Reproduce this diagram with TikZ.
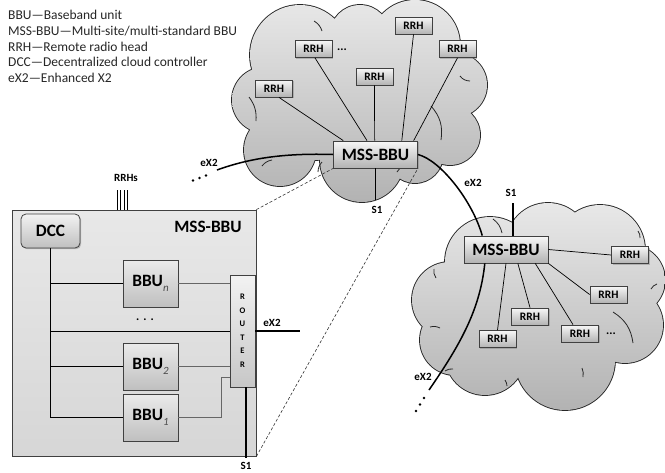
\documentclass[tikz,border=0pt]{standalone}
\usepackage{fontspec}
\setmainfont{Carlito}
\usetikzlibrary{shadows,calc}
\newcommand\cloudTopPath{(300,55) circle[radius=50pt] (415,45) circle[radius=45pt] (455,85) circle[radius=32pt] (450,135) circle[radius=30pt] (265,100) circle[radius=33pt] (280,150) circle[radius=36pt] (362,160) circle[radius=42pt] (415,155) circle[radius=28pt] (360,100) circle[radius=60pt] (360,35) circle[radius=30pt] (315,115) circle[radius=45pt] (415,100) circle[radius=40pt]}
\newcommand\cloudBotPath{(490,262) circle[radius=45pt] (548,245) circle[radius=42pt] (600,250) circle[radius=45pt] (630,280) circle[radius=35pt] (625,325) circle[radius=38pt] (565,360) circle[radius=50pt] (485,355) circle[radius=40pt] (450,300) circle[radius=38pt] (455,340) circle[radius=35pt] (540,305) circle[radius=60pt]}
\begin{document}
\begin{tikzpicture}[x=1pt,y=-1pt,
  box/.style={draw=black!75, line width=0.8pt, top color=black!3, bottom color=black!30,
    drop shadow={shadow xshift=1.2pt, shadow yshift=-1.2pt, opacity=0.45},
    inner sep=0pt, font=\bfseries\fontsize{17.3}{18}\selectfont},
  rrh/.style={box, font=\bfseries\fontsize{11.4}{12}\selectfont, minimum width=37pt, minimum height=17pt},
  mss/.style={box, minimum width=84pt, minimum height=27pt},
  bbu/.style={box, minimum width=55pt, minimum height=47pt, top color=black!8, bottom color=black!25},
  lab/.style={font=\bfseries\fontsize{11}{12}\selectfont, inner sep=0pt},
  leg/.style={font=\fontsize{13.5}{15}\selectfont, text=black!85, anchor=base west, inner sep=0pt},
  thinln/.style={line width=0.7pt, black},
  gline/.style={line width=0.9pt, black!60},
  thickln/.style={line width=1.5pt, black},
  dashln/.style={line width=0.6pt, dash pattern=on 3pt off 2pt, black!80},
  puff/.style={line width=0.8pt, black!85}
]
\useasboundingbox (0,0) rectangle (665,472);

% legend
\node[leg] (leg1) at (8,19.5) {BBU—Baseband unit};
\node[leg] (leg2) at (8,35.3) {MSS-BBU—Multi-site/multi-standard BBU};
\node[leg] (leg3) at (8,51.1) {RRH—Remote radio head};
\node[leg] (leg4) at (8,66.9) {DCC—Decentralized cloud controller};
\node[leg] (leg5) at (8,82.7) {eX2—Enhanced X2};

% clouds
\draw[line width=1.8pt, black!85] \cloudTopPath;
\shade[top color=black!9, bottom color=black!30] \cloudTopPath;
\draw[line width=1.8pt, black!85] \cloudBotPath;
\shade[top color=black!9, bottom color=black!30] \cloudBotPath;
% inner puff arcs (top cloud)
\draw[puff] (314,21) to[bend left=20] (322,31);
\draw[puff] (460,76) to[bend right=25] (470,81);
\draw[puff] (431,106) to[bend left=25] (441,140);
\draw[puff] (262,166) to[bend left=20] (272,160);
\draw[puff] (318,172) to[bend left=20] (322,162);
\draw[puff] (397,172) to[bend right=20] (401,164);
\draw[puff] (249,97) to[bend left=20] (256,121);
% inner puff arcs (bottom cloud)
\draw[puff] (493,219) to[bend left=20] (502,233);
\draw[puff] (638,231) to[bend left=20] (640,238);
\draw[puff] (651,289) to[bend left=20] (657,284);
\draw[puff] (613,312) to[bend left=25] (633,343);
\draw[puff] (582,368) to[bend left=15] (583,377);
\draw[puff] (505,380) to[bend left=15] (507,386);
\draw[puff] (445,371) to[bend left=20] (453,369);
\draw[puff] (430,327) to[bend left=20] (440,328);
\draw[puff] (434,269) to[bend right=20] (436,278);

% big MSS-BBU container
\node[draw=black!75, line width=0.8pt, top color=black!9, bottom color=black!16,
  drop shadow={shadow xshift=1.2pt, shadow yshift=-1.2pt, opacity=0.4},
  minimum width=244pt, minimum height=246pt, inner sep=0pt] (big) at (134,333) {};
\node[font=\bfseries\fontsize{17.3}{18}\selectfont, inner sep=0pt] (bigl) at (208,227) {MSS-BBU};

% top cloud nodes
\node[mss] (mssA) at (375.5,154.5) {MSS-BBU};
\node[rrh] (t1) at (274,88.5) {RRH};
\node[rrh] (t2) at (313.5,49) {RRH};
\node[rrh] (t3) at (374.5,76.5) {RRH};
\node[rrh] (t4) at (413.5,25.5) {RRH};
\node[rrh] (t5) at (457.5,49) {RRH};
\node[font=\bfseries\fontsize{12}{12}\selectfont, inner sep=0pt] (tdots) at (342,50) {...};

% bottom cloud nodes
\node[mss] (mssB) at (506,249.5) {MSS-BBU};
\node[rrh] (b1) at (630,255) {RRH};
\node[rrh] (b2) at (608.5,294.5) {RRH};
\node[rrh] (b3) at (580,333.5) {RRH};
\node[rrh] (b4) at (530,316.5) {RRH};
\node[rrh] (b5) at (497.5,339) {RRH};
\node[font=\bfseries\fontsize{12}{12}\selectfont, inner sep=0pt] (bdots) at (611,334) {...};

% container contents
\node[box, rounded corners=5pt, minimum width=59pt, minimum height=34pt, top color=black!5, bottom color=black!25] (dcc) at (50.5,231) {DCC};
\node[bbu] (bbun) at (150.5,283.5) {BBU\raisebox{-0.3em}{\normalfont\itshape\fontsize{11}{11}\selectfont\color{black!70}n}};
\node[bbu] (bbu2) at (150.5,366.5) {BBU\raisebox{-0.3em}{\normalfont\itshape\fontsize{11}{11}\selectfont\color{black!70}2}};
\node[bbu] (bbu1) at (150.5,417.5) {BBU\raisebox{-0.3em}{\normalfont\itshape\fontsize{11}{11}\selectfont\color{black!70}1}};
\node[draw=black!75, line width=0.8pt, top color=black!5, bottom color=black!22,
  minimum width=25pt, minimum height=112pt, inner sep=0pt] (router) at (242.5,331) {};
\foreach \l [count=\i from 0] in {R,O,U,T,E,R}
  \node[font=\bfseries\fontsize{8.5}{9}\selectfont, inner sep=0pt] (rl\i) at (242.5,297+13.5*\i) {\l};
\node[font=\bfseries\fontsize{12}{12}\selectfont, inner sep=0pt] (cdots) at (145,320) {.\,\,.\,\,.};

% DCC bus (black)
\draw[thinln] (dcc.south) |- (bbu1.west);
\draw[thinln] (dcc.south |- bbun.west) -- (bbun.west);
\draw[thinln] (dcc.south |- router.west) -- (router.west);
\draw[thinln] (dcc.south |- bbu2.west) -- (bbu2.west);
% BBU to router (gray)
\draw[gline] (bbun.east) -- (bbun.east -| router.west);
\draw[gline] (bbu2.east) -- (bbu2.east -| router.west);
\draw[gline] (bbu1.east) -| ([xshift=-8pt,yshift=10pt]router.south west) -- ([yshift=10pt]router.south west);

% router external
\coordinate (rex) at (300,331);
\draw[thickln] (router.east) -- (rex);
\node[lab] (rexl) at (272,323) {eX2};
\coordinate (rs1) at (246,458);
\draw[thickln] ([xshift=3.5pt]router.south) -- (rs1);
\node[lab] (rs1l) at (246,465.5) {S1};

% RRHs on top of container
\coordinate (rr1) at (117,190);
\coordinate (rr2) at (120.5,190);
\coordinate (rr3) at (124,190);
\coordinate (rr4) at (127.5,190);
\foreach \c in {rr1,rr2,rr3,rr4} \draw[line width=0.6pt] (\c) -- (\c |- big.north);
\node[lab] (rrhsl) at (126,178) {RRHs};

% dashed zoom lines
\draw[dashln] (big.north east) -- (mssA.south west);
\draw[dashln] (big.south east) -- (mssA.south east);

% top cloud RRH links
\draw[thinln] ([xshift=5pt]t1.south) -- ($(mssA.north west)!0.12!(mssA.north east)$);
\draw[thinln] ([xshift=1.5pt]t2.south) -- ($(mssA.north west)!0.40!(mssA.north east)$);
\draw[thinln] (t3.south) -- ($(mssA.north west)!0.49!(mssA.north east)$);
\draw[thinln] (t4.south) -- ($(mssA.north west)!0.81!(mssA.north east)$);
\draw[thinln] (t5.south) -- ($(mssA.north west)!0.95!(mssA.north east)$);

% top cloud S1 and eX2
\coordinate (s1a) at (375.5,200);
\draw[thickln] (mssA.south) -- (s1a);
\node[lab] (s1al) at (377,210) {S1};
\coordinate (exl) at (217,170);
\draw[thickln] (mssA.west) .. controls (285,153) and (250,158) .. (exl);
\node[lab] (exll) at (209,163) {eX2};
\fill (193,180.5) circle[radius=1.3pt] (199.5,178) circle[radius=1.3pt] (206,175.5) circle[radius=1.3pt];

% link between clouds
\draw[thickln] (mssA.east) .. controls (440,160) and (472,200) .. ($(mssB.north west)!0.22!(mssB.north east)$);
\node[lab] (exml) at (473,183) {eX2};

% bottom cloud
\coordinate (s1b) at (513,203);
\draw[thickln] ([xshift=7pt]mssB.north) -- (s1b);
\node[lab] (s1bl) at (511,193) {S1};
\draw[thinln] (mssB.east) -- (b1.west);
\draw[thinln] (mssB.south east) -- (b2.west);
\draw[thinln] ($(mssB.south west)!0.845!(mssB.south east)$) -- ([xshift=-7pt]b3.north);
\draw[thinln] ($(mssB.south west)!0.64!(mssB.south east)$) -- (b4.north);
\draw[thinln] ($(mssB.south west)!0.5!(mssB.south east)$) -- (b5.north);
\coordinate (exb) at (429,390);
\draw[thickln] ($(mssB.south west)!0.25!(mssB.south east)$) .. controls (480,310) and (460,345) .. (exb);
\node[lab] (exbl) at (423,377) {eX2};
\fill (424,398) circle[radius=1.3pt] (420,404.5) circle[radius=1.3pt] (416,411) circle[radius=1.3pt];
\end{tikzpicture}
\end{document}
